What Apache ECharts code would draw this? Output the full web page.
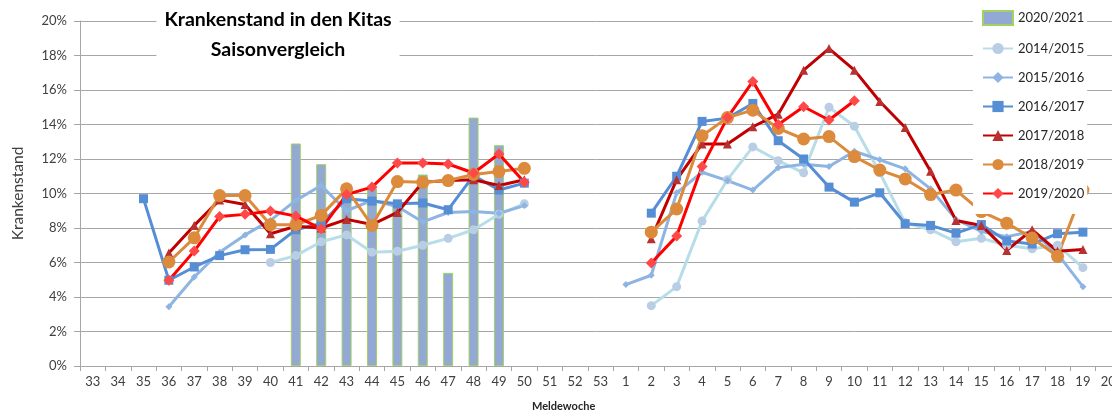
<!DOCTYPE html>
<html>
<head>
<meta charset="utf-8">
<script src="https://cdn.jsdelivr.net/npm/echarts@6/dist/echarts.min.js"></script>
<style>
html,body{margin:0;padding:0;background:#fff;}
#chart{width:1112px;height:414px;}
</style>
</head>
<body>
<div id="chart"></div>
<script>
// Category labels (Meldewoche)
const weeksAutumn = ['33','34','35','36','37','38','39','40','41','42','43','44','45','46','47','48','49','50','51','52','53'];
const weeksSpring = ['1','2','3','4','5','6','7','8','9','10','11','12','13','14','15','16','17','18','19','20'];
const yTicks = { min: 0, max: 20, interval: 2 };

// Values in percent, autumn part = weeks 33..53, spring part = weeks 1..20
const s2021Autumn = [null,null,null,null,null,null,null,null,12.9,11.7,10.0,10.3,9.5,11.1,5.4,14.4,12.8,null,null,null,null];
const s2021Spring = [null,null,null,null,null,null,null,null,null,null,null,null,null,null,null,null,null,null,null,null];

const s1415Autumn = [null,null,null,null,null,null,null,6.0,6.4,7.2,7.6,6.6,6.65,7.0,7.4,7.9,8.8,9.4,null,null,null];
const s1415Spring = [null,3.5,4.6,8.4,10.8,12.7,11.9,11.2,15.0,13.9,11.2,8.3,7.9,7.2,7.4,7.0,6.8,7.0,5.7,null];

const s1516Autumn = [null,null,null,3.43,5.16,6.6,7.6,8.44,9.6,10.46,9.0,9.6,9.25,8.35,8.9,8.95,8.85,9.3,null,null,null];
const s1516Spring = [4.72,5.26,10.04,11.23,10.75,10.2,11.5,11.7,11.56,12.45,11.95,11.43,10.27,8.5,7.8,7.5,7.8,6.5,4.6,null];

const s1617Autumn = [null,null,9.7,4.97,5.74,6.4,6.74,6.76,7.9,8.27,9.7,9.56,9.4,9.45,9.06,11.04,10.2,10.6,null,null,null];
const s1617Spring = [null,8.86,11.0,14.18,14.37,15.22,13.06,12.0,10.37,9.5,10.04,8.25,8.15,7.7,8.2,7.25,7.07,7.67,7.76,null];

const s1718Autumn = [null,null,null,6.55,8.15,9.63,9.36,7.67,8.1,8.0,8.5,8.2,8.9,10.65,10.75,10.8,10.46,10.8,null,null,null];
const s1718Spring = [null,7.38,10.8,12.87,12.87,13.87,14.6,17.15,18.4,17.15,15.33,13.83,11.29,8.44,8.15,6.7,7.9,6.65,6.76,null];

const s1819Autumn = [null,null,null,6.03,7.43,9.88,9.88,8.19,8.19,8.73,10.27,8.15,10.69,10.65,10.75,11.1,11.27,11.46,null,null,null];
const s1819Spring = [null,7.76,9.1,13.35,14.4,14.83,13.77,13.16,13.3,12.14,11.36,10.84,9.94,10.2,8.95,8.28,7.42,6.36,10.2,null];

const s1920Autumn = [null,null,null,4.97,6.66,8.67,8.79,8.98,8.69,7.95,9.94,10.37,11.77,11.77,11.71,11.19,12.29,10.65,null,null,null];
const s1920Spring = [null,5.97,7.53,11.56,14.4,16.5,14.0,15.03,14.26,15.38,null,null,null,null,null,null,null,null,null,null];

const categories = weeksAutumn.concat(weeksSpring);
const FONT = 'Lato, "Open Sans", sans-serif';

function lineSeries(name, data, lineColor, markColor, symbol, size) {
  return {
    name: name, type: 'line', data: data, connectNulls: false,
    symbol: symbol, symbolSize: size,
    lineStyle: { color: lineColor, width: 3 },
    itemStyle: { color: markColor },
    z: 3
  };
}

const chart = echarts.init(document.getElementById('chart'), null, { renderer: 'canvas' });
chart.setOption({
  animation: false,
  backgroundColor: '#fff',
  title: {
    text: 'Krankenstand in den Kitas\nSaisonvergleich',
    left: 270, top: 1, textAlign: 'center',
    backgroundColor: '#fff', padding: [4, 8, 6, 8],
    textStyle: { fontFamily: FONT, fontWeight: 'bold', fontSize: 19.5, lineHeight: 30, color: '#000' }
  },
  legend: {
    orient: 'vertical', left: 973, top: 3,
    backgroundColor: '#fff', padding: [7, 3, 14, 9],
    itemGap: 16, itemWidth: 30, itemHeight: 14,
    textStyle: { fontFamily: FONT, fontSize: 13, color: '#262626' },
    data: [
      { name: '2020/2021', icon: 'rect' },
      '2014/2015','2015/2016','2016/2017','2017/2018','2018/2019','2019/2020'
    ]
  },
  grid: { left: 80, width: 1041, top: 21, bottom: 48, containLabel: false, outerBoundsMode: 'none' },
  xAxis: {
    type: 'category', data: categories, boundaryGap: true,
    axisLine: { lineStyle: { color: '#A6A6A6' } },
    axisTick: { show: true, interval: 0, length: 5, lineStyle: { color: '#A6A6A6' } },
    axisLabel: { interval: 0, margin: 9, fontFamily: FONT, fontSize: 13, color: '#404040' }
  },
  yAxis: {
    type: 'value', min: yTicks.min, max: yTicks.max, interval: yTicks.interval,
    name: 'Krankenstand', nameLocation: 'middle', nameRotate: 90, nameGap: 54,
    nameTextStyle: { fontFamily: FONT, fontSize: 15.5, color: '#404040' },
    axisLine: { show: true, lineStyle: { color: '#A6A6A6' } },
    axisTick: { show: true, length: 6, lineStyle: { color: '#A6A6A6' } },
    axisLabel: { formatter: '{value}%', margin: 13, fontFamily: FONT, fontSize: 13, color: '#404040' },
    splitLine: { lineStyle: { color: '#A6A6A6', width: 1 } }
  },
  graphic: [{
    type: 'text', left: 565 - 33, top: 401,
    style: { text: 'Meldewoche', fontFamily: FONT, fontWeight: 'bold', fontSize: 11, fill: '#262626' }
  }],
  series: [
    {
      name: '2020/2021', type: 'bar', data: s2021Autumn.concat(s2021Spring), barWidth: 10,
      itemStyle: { color: '#93A8D2', borderColor: '#A2D263', borderWidth: 1 }, z: 2
    },
    lineSeries('2014/2015', s1415Autumn.concat(s1415Spring), '#B7DEE8', '#B9CDE5', 'circle', 9),
    lineSeries('2015/2016', s1516Autumn.concat(s1516Spring), '#8DB4E2', '#8DB4E2', 'diamond', 7),
    lineSeries('2016/2017', s1617Autumn.concat(s1617Spring), '#558ED5', '#558ED5', 'rect', 9),
    lineSeries('2017/2018', s1718Autumn.concat(s1718Spring), '#C00000', '#B8302F', 'triangle', 9),
    lineSeries('2018/2019', s1819Autumn.concat(s1819Spring), '#DC8A3C', '#DC8A3C', 'circle', 13),
    lineSeries('2019/2020', s1920Autumn.concat(s1920Spring), '#FF0000', '#FF4848', 'diamond', 11)
  ]
});
</script>
</body>
</html>
